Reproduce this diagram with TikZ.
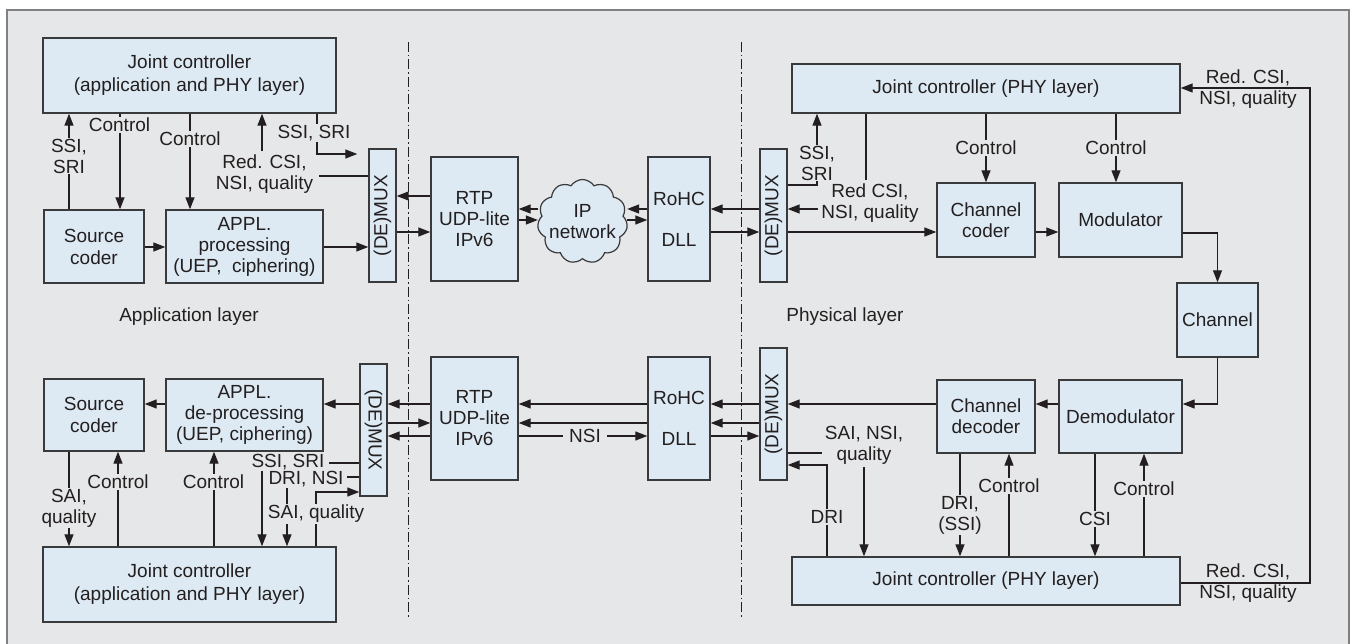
\documentclass[tikz,border=0pt]{standalone}
\usepackage{fontspec}
\setmainfont{Liberation Sans}
\usetikzlibrary{arrows.meta,shapes.symbols}
\definecolor{bg}{HTML}{E6E7E8}
\definecolor{boxfill}{HTML}{DDEAF3}
\definecolor{boxline}{HTML}{3A3A3C}
\definecolor{linecol}{HTML}{231F20}
\definecolor{framecol}{HTML}{808082}
\begin{document}
\begin{tikzpicture}[x=1pt,y=-1pt,
  every node/.style={font=\fontsize{19pt}{21pt}\selectfont, text=linecol},
  box/.style={draw=boxline, fill=boxfill, line width=1.4pt, inner sep=0pt, align=center},
  lbl/.style={fill=bg, inner sep=1pt, align=center},
  lblnf/.style={inner sep=3pt, align=center},
  conn/.style={line width=1.3pt, draw=linecol},
  arr/.style={conn, -{Triangle[length=12pt,width=9pt]}},
  dashdotline/.style={line width=0.8pt, draw=linecol, dash pattern=on 10pt off 3pt on 1.5pt off 3pt},
  cloudsty/.style={cloud, cloud puffs=11, cloud puff arc=115, aspect=1.07, draw=boxline, fill=boxfill, line width=1.2pt, minimum width=90pt, minimum height=84pt, inner sep=0pt}
]
\useasboundingbox (0,0) rectangle (1353,644);
\fill[white] (0,0) rectangle (1353,644);
\filldraw[fill=bg, draw=framecol, line width=1.5pt] (7,10) rectangle (1349,660);

% layer separators
\coordinate (sepAtop) at (408,42);
\coordinate (sepAbot) at (408,618);
\coordinate (sepBtop) at (741,42);
\coordinate (sepBbot) at (741,618);
\draw[dashdotline] (sepAtop) -- (sepAbot);
\draw[dashdotline] (sepBtop) -- (sepBbot);

% ---------- nodes: upper chain ----------
\node[box, minimum width=293pt, minimum height=75pt] (jcA) at (189.5,75.5) {Joint controller\\[2pt](application and PHY layer)};
\node[box, minimum width=100pt, minimum height=73pt] (scA) at (94,246.5) {Source\\[1pt]coder};
\node[box, minimum width=157pt, minimum height=73pt] (apA) at (244.5,246.5) {APPL.\\processing\\(UEP,~ ciphering)};
\node[box, minimum width=27pt, minimum height=133pt] (dmA) at (382.5,215.5) {\rotatebox{90}{(DE)MUX}};
\node[box, minimum width=87pt, minimum height=124pt] (rtpA) at (474.5,219) {RTP\\UDP-lite\\IPv6};
\node[cloudsty] (ipnet) at (582.5,221.5) {};
\node[align=center, inner sep=0pt] (ipnetTxt) at (582.5,221.5) {IP\\network};
\node[box, minimum width=62pt, minimum height=124pt] (rohcA) at (679,219) {RoHC\\[20pt]DLL};
\node[box, minimum width=27pt, minimum height=133pt] (dmB) at (773.5,215.5) {\rotatebox{90}{(DE)MUX}};
\node[box, minimum width=388pt, minimum height=49pt] (jcB) at (986,88.5) {Joint controller (PHY layer)};
\node[box, minimum width=98pt, minimum height=74pt] (ccod) at (986,220) {Channel\\coder};
\node[box, minimum width=123pt, minimum height=74pt] (mod) at (1120.5,220) {Modulator};
\node[box, minimum width=81pt, minimum height=74pt] (chan) at (1217.5,320) {Channel};

% ---------- nodes: lower chain ----------
\node[box, minimum width=123pt, minimum height=73pt] (dmod) at (1120.5,416.5) {Demodulator};
\node[box, minimum width=98pt, minimum height=73pt] (cdec) at (986,416.5) {Channel\\decoder};
\node[box, minimum width=27pt, minimum height=132pt] (dmD) at (773.5,414) {\rotatebox{90}{(DE)MUX}};
\node[box, minimum width=388pt, minimum height=48pt] (jcD) at (986,581) {Joint controller (PHY layer)};
\node[box, minimum width=62pt, minimum height=123pt] (rohcC) at (679,418.5) {RoHC\\[20pt]DLL};
\node[box, minimum width=87pt, minimum height=123pt] (rtpC) at (474.5,418.5) {RTP\\UDP-lite\\IPv6};
\node[box, minimum width=27pt, minimum height=132pt] (dmC) at (373.5,430) {\rotatebox{-90}{(DE)MUX}};
\node[box, minimum width=157pt, minimum height=72pt] (apC) at (244.5,415) {APPL.\\de-processing\\(UEP, ciphering)};
\node[box, minimum width=100pt, minimum height=72pt] (scC) at (94,415) {Source\\[1pt]coder};
\node[box, minimum width=293pt, minimum height=75pt] (jcC) at (189.5,584.5) {Joint controller\\[2pt](application and PHY layer)};

% layer titles
\node (tApp) at (189,317) {Application layer};
\node (tPhy) at (845,317) {Physical layer};

% ---------- connectors: upper left ----------
\draw[arr] (scA.north -| 69,0) -- (jcA.south -| 69,0);
\node[lbl] (lSSa) at (69,156) {SSI,\\SRI};
\draw[arr] (jcA.south -| 120,0) -- (scA.north -| 120,0);
\node[lbl] (lCa1) at (119.5,125) {Control};
\draw[arr] (jcA.south -| 190,0) -- (apA.north -| 190,0);
\node[lbl] (lCa2) at (190,139) {Control};
\node[lblnf, inner xsep=6pt] (lRa) at (264.5,174) {Red. CSI,\\NSI, quality};
\draw[conn] (dmA.west |- 0,176) -- (lRa.east |- 0,176);
\draw[arr] (lRa.north -| 262,0) -- (jcA.south -| 262,0);
\draw[arr, shorten >=11pt] (jcA.south -| 317,0) |- (dmA.west |- 0,154);
\node[lbl] (lSSb) at (314,133) {SSI, SRI};
\draw[arr] (scA.east |- 0,247) -- (apA.west |- 0,247);
\draw[arr] (apA.east |- 0,247) -- (dmA.west |- 0,247);

% ---------- connectors: upper middle ----------
\draw[arr] (rtpA.west |- 0,196) -- (dmA.east |- 0,196);
\draw[arr] (dmA.east |- 0,232) -- (rtpA.west |- 0,232);
\draw[arr] (ipnet.west |- 0,209) -- (rtpA.east |- 0,209);
\draw[arr] (rtpA.east |- 0,220) -- (ipnet.west |- 0,220);
\draw[arr] (rohcA.west |- 0,209) -- (ipnet.east |- 0,209);
\draw[arr] (ipnet.east |- 0,220) -- (rohcA.west |- 0,220);
\draw[arr] (dmB.west |- 0,209) -- (rohcA.east |- 0,209);
\draw[arr] (rohcA.east |- 0,232) -- (dmB.west |- 0,232);

% ---------- connectors: upper right ----------
\draw[arr] (dmB.east |- 0,185) -| (jcB.south -| 817,0);
\node[lbl] (lSSc) at (817,163) {SSI,\\SRI};
\node[lblnf] (lRb) at (870,203) {Red CSI,\\NSI, quality};
\draw[conn] (jcB.south -| 866,0) -- (lRb.north -| 866,0);
\draw[arr] (lRb.west |- 0,209) -- (dmB.east |- 0,209);
\draw[arr] (dmB.east |- 0,232) -- (ccod.west |- 0,232);
\draw[arr] (ccod.east |- 0,232) -- (mod.west |- 0,232);
\draw[arr] (jcB.south -| 986,0) -- (ccod.north -| 986,0);
\node[lbl] (lCb1) at (986,148) {Control};
\draw[arr] (jcB.south -| 1116,0) -- (mod.north -| 1116,0);
\node[lbl] (lCb2) at (1116,148) {Control};
\draw[arr] (mod.east |- 0,233) -| (chan.north);
\draw[arr] (chan.south) |- (dmod.east |- 0,404);
\coordinate (fbk) at (1310,300);
\draw[arr] (jcD.east |- 0,583) -| (fbk |- 0,88) -- (jcB.east |- 0,88);
\node[lblnf] (lRc) at (1248,89) {Red. CSI,\\NSI, quality};
\node[lblnf] (lRd) at (1248,583.5) {Red. CSI,\\NSI, quality};

% ---------- connectors: lower right ----------
\draw[arr] (dmod.west |- 0,404) -- (cdec.east |- 0,404);
\draw[arr] (cdec.west |- 0,404) -- (dmD.east |- 0,404);
\node[lblnf] (lSNd) at (864,445) {SAI, NSI,\\quality};
\draw[conn] (dmD.east |- 0,453) -- (lSNd.west |- 0,453);
\draw[arr] (lSNd.south -| 864,0) -- (jcD.north -| 864,0);
\draw[arr] (jcD.north -| 827,0) |- (dmD.east |- 0,465);
\node[lbl] (lDRd) at (827,517) {DRI};
\draw[arr] (cdec.south -| 960,0) -- (jcD.north -| 960,0);
\node[lbl] (lDSd) at (960,515) {DRI,\\(SSI)};
\draw[arr] (jcD.north -| 1009,0) -- (cdec.south -| 1009,0);
\node[lbl] (lCd1) at (1009,486) {Control};
\draw[arr] (dmod.south -| 1095,0) -- (jcD.north -| 1095,0);
\node[lbl] (lCSd) at (1095,519) {CSI};
\draw[arr] (jcD.north -| 1144,0) -- (dmod.south -| 1144,0);
\node[lbl] (lCd2) at (1144,489) {Control};

% ---------- connectors: lower middle ----------
\draw[arr] (dmD.west |- 0,404) -- (rohcC.east |- 0,404);
\draw[arr] (dmD.west |- 0,423) -- (rohcC.east |- 0,423);
\draw[arr] (rohcC.east |- 0,436) -- (dmD.west |- 0,436);
\draw[arr] (rohcC.west |- 0,404) -- (rtpC.east |- 0,404);
\draw[arr] (rohcC.west |- 0,423) -- (rtpC.east |- 0,423);
\draw[arr] (rtpC.east |- 0,436) -- (rohcC.west |- 0,436);
\node[lbl, inner xsep=6pt] (lNSI) at (585,436) {NSI};
\draw[arr] (rtpC.west |- 0,404) -- (dmC.east |- 0,404);
\draw[arr] (dmC.east |- 0,423) -- (rtpC.west |- 0,423);
\draw[arr] (rtpC.west |- 0,436) -- (dmC.east |- 0,436);

% ---------- connectors: lower left ----------
\draw[arr] (dmC.west |- 0,404) -- (apC.east |- 0,404);
\draw[arr] (apC.west |- 0,404) -- (scC.east |- 0,404);
\draw[arr] (scC.south -| 69,0) -- (jcC.north -| 69,0);
\node[lbl] (lSAc) at (69,508) {SAI,\\quality};
\draw[arr] (jcC.north -| 118,0) -- (scC.south -| 118,0);
\node[lbl] (lCc1) at (118,482) {Control};
\draw[arr] (jcC.north -| 214,0) -- (apC.south -| 214,0);
\node[lbl] (lCc2) at (213.5,482) {Control};
\node[lblnf, inner sep=1pt, inner xsep=4pt] (lSSe) at (288,462) {SSI, SRI};
\draw[conn] (dmC.west |- 0,463) -- (lSSe.east |- 0,463);
\draw[arr] (lSSe.south -| 262,0) -- (jcC.north -| 262,0);
\node[lblnf, inner sep=1pt, inner xsep=3pt] (lDNe) at (306,479) {DRI, NSI};
\draw[conn] (dmC.west |- 0,477) -- (lDNe.east |- 0,477);
\draw[arr] (lDNe.south -| 287,0) -- (jcC.north -| 287,0);
\draw[arr] (jcC.north -| 316,0) |- (dmC.west |- 0,492);
\node[lbl] (lSQe) at (316,514) {SAI, quality};
\end{tikzpicture}
\end{document}
